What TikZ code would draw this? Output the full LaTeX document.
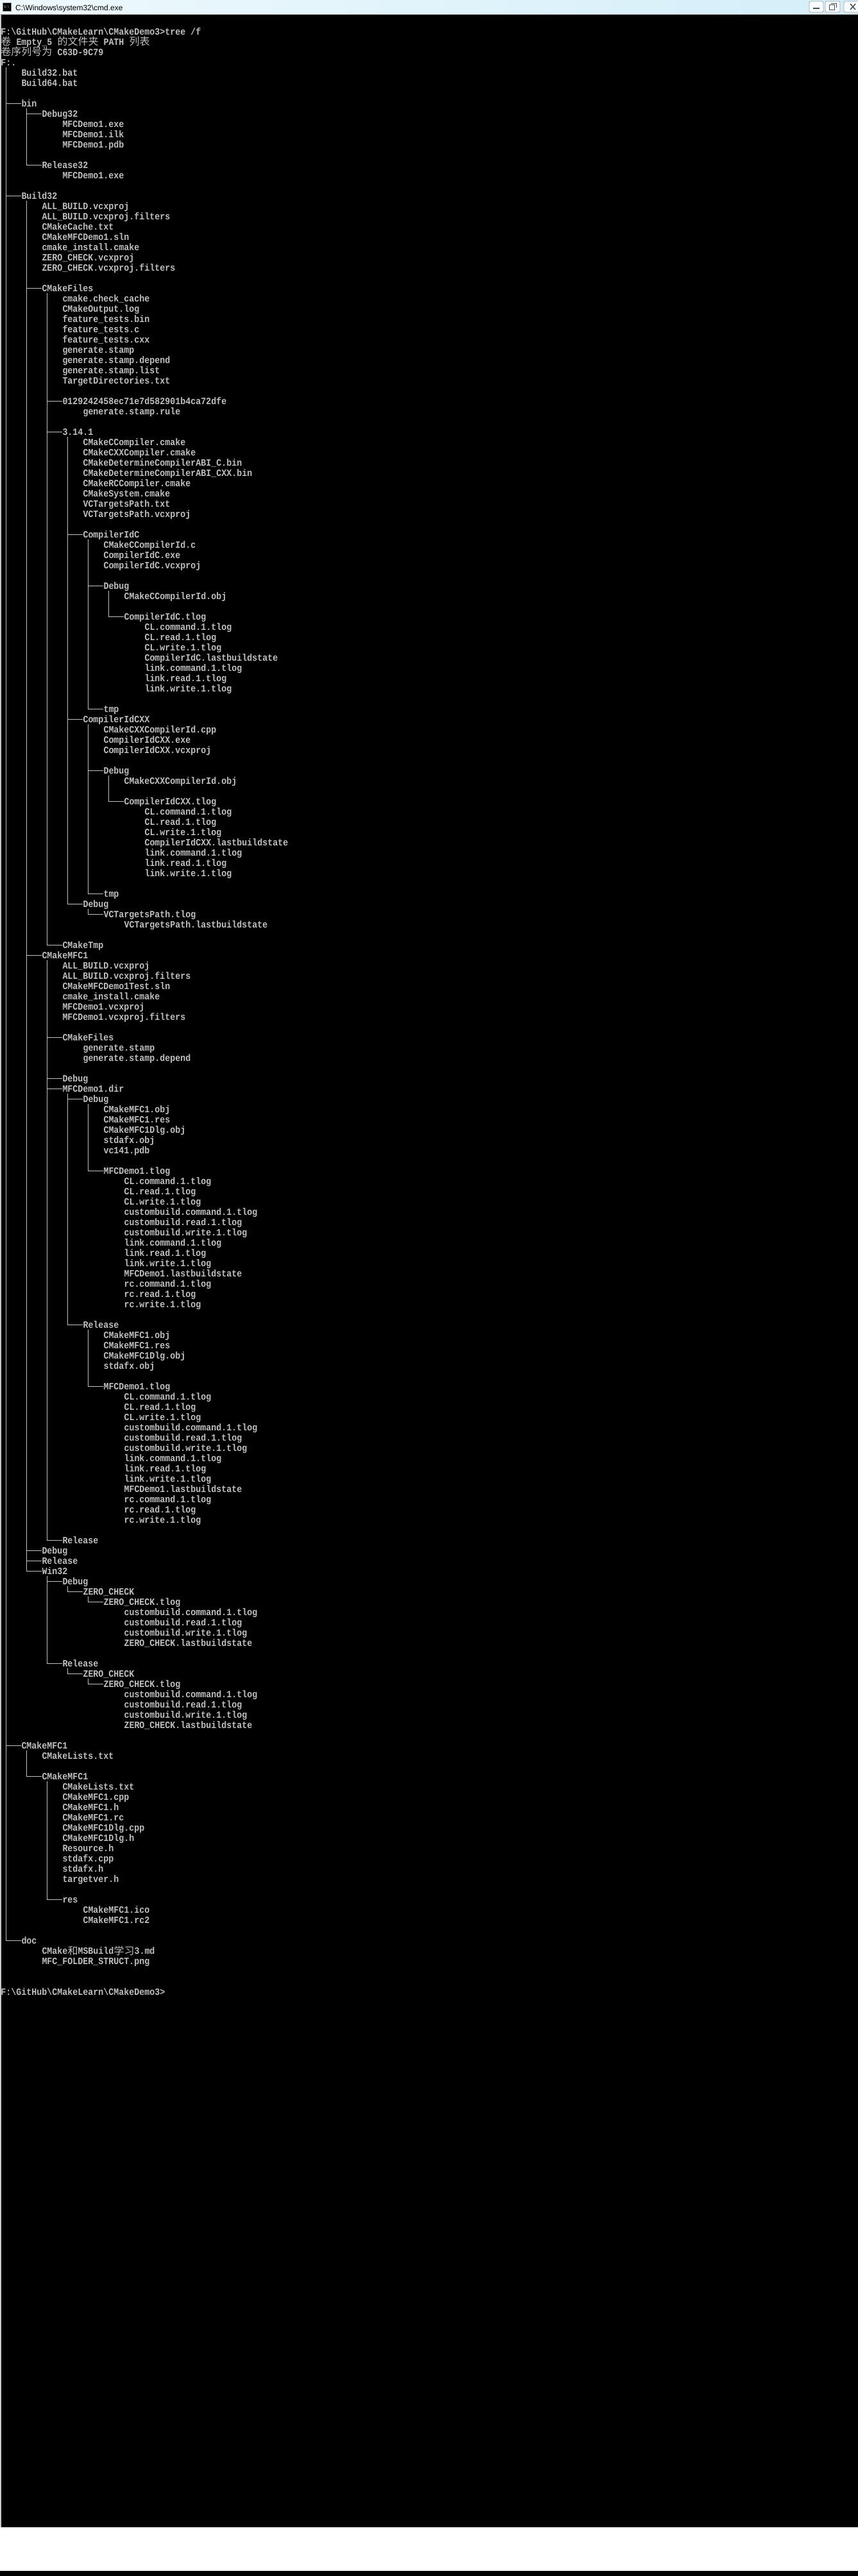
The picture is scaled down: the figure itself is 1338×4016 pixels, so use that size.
\documentclass[tikz,border=0pt]{standalone}
\usepackage{fontspec}
\newfontfamily\tfont{Liberation Mono}[FakeStretch=0.88875]
\newfontfamily\cjkf{Noto Sans CJK SC}
\newfontfamily\uifont{Liberation Sans}
\definecolor{term}{RGB}{192,192,192}
\definecolor{titlebgL}{RGB}{238,249,253}
\definecolor{titlebgR}{RGB}{212,238,249}
\definecolor{winborder}{RGB}{200,200,200}
\newcommand\trow[3]{\node[txt] (r#1) at ({1.5+8*#2},{54+16*#1}) {#3};}
\newcommand\treev[3]{\draw[tree] ({9.5+8*#1},{41+16*#2}) -- ({9.5+8*#1},{49+16*#3}) -- ++(23,0);}
\newcommand\treet[2]{\draw[tree] ({9.5+8*#1},{49+16*#2}) -- ++(23,0);}
\begin{document}
\begin{tikzpicture}[x=1pt,y=-1pt,
  txt/.style={anchor=base west,inner sep=0pt,outer sep=0pt,text=term,font=\tfont\bfseries\fontsize{15}{16}\selectfont},
  cjk/.style={anchor=base west,inner sep=0pt,outer sep=0pt,text=term,font=\cjkf\fontsize{16}{16}\selectfont},
  tree/.style={draw=term,line width=1pt},
  winbtn/.style={draw=gray!70,fill=white!85!cyan!20,rounded corners=2pt,line width=0.8pt}]
\useasboundingbox (0,0) rectangle (1338,4016);
\fill[black] (0,0) rectangle (1338,4016);
% title bar
\shade[left color=titlebgL,right color=titlebgR] (0,0) rectangle (1338,22);
\draw[gray!70,line width=1pt] (0,22.5) -- (1338,22.5);
\node[fill=black,draw=gray,minimum size=13pt,inner sep=0pt,text=white,font=\tfont\fontsize{5}{5}\selectfont] (icon) at (10.5,11) {C:\textbackslash};
\node[anchor=base west,inner sep=0pt,font=\uifont\fontsize{12}{14}\selectfont] (title) at (24,16) {C:\textbackslash Windows\textbackslash system32\textbackslash cmd.exe};
\draw[winbtn] (1262,2) rectangle (1284,19);
\draw[winbtn] (1287,2) rectangle (1310,19);
\draw[winbtn] (1316,2) rectangle (1345,19);
\draw[black!70,line width=1.5pt] (1268,13) -- (1278,13);
\draw[black!70,line width=1pt] (1293,7) rectangle (1301,15);
\draw[black!70,line width=1pt] (1296,5) -- (1304,5) -- (1304,12);
\draw[black!70,line width=1.5pt] (1326,6) -- (1334,15) (1326,15) -- (1334,6);
% window left border
\draw[winborder,line width=1.5pt] (1,23) -- (1,3940);
% text
\trow{0}{0}{F:\textbackslash{}GitHub\textbackslash{}CMakeLearn\textbackslash{}CMakeDemo3>tree /f}
\node[cjk] (r1a) at (1.5,70) {卷};
\node[txt] (r1b) at ({1.5+8*3},70) {Empty\_5};
\node[cjk] (r1c) at ({1.5+8*11},70) {的文件夹};
\node[txt] (r1d) at ({1.5+8*20},70) {PATH};
\node[cjk] (r1e) at ({1.5+8*25},70) {列表};
\node[cjk] (r2a) at (1.5,86) {卷序列号为};
\node[txt] (r2b) at ({1.5+8*11},86) {C63D-9C79};
\trow{3}{0}{F:.}
\trow{4}{4}{Build32.bat}
\trow{5}{4}{Build64.bat}
\trow{7}{4}{bin}
\trow{8}{8}{Debug32}
\trow{9}{12}{MFCDemo1.exe}
\trow{10}{12}{MFCDemo1.ilk}
\trow{11}{12}{MFCDemo1.pdb}
\trow{13}{8}{Release32}
\trow{14}{12}{MFCDemo1.exe}
\trow{16}{4}{Build32}
\trow{17}{8}{ALL\_BUILD.vcxproj}
\trow{18}{8}{ALL\_BUILD.vcxproj.filters}
\trow{19}{8}{CMakeCache.txt}
\trow{20}{8}{CMakeMFCDemo1.sln}
\trow{21}{8}{cmake\_install.cmake}
\trow{22}{8}{ZERO\_CHECK.vcxproj}
\trow{23}{8}{ZERO\_CHECK.vcxproj.filters}
\trow{25}{8}{CMakeFiles}
\trow{26}{12}{cmake.check\_cache}
\trow{27}{12}{CMakeOutput.log}
\trow{28}{12}{feature\_tests.bin}
\trow{29}{12}{feature\_tests.c}
\trow{30}{12}{feature\_tests.cxx}
\trow{31}{12}{generate.stamp}
\trow{32}{12}{generate.stamp.depend}
\trow{33}{12}{generate.stamp.list}
\trow{34}{12}{TargetDirectories.txt}
\trow{36}{12}{0129242458ec71e7d582901b4ca72dfe}
\trow{37}{16}{generate.stamp.rule}
\trow{39}{12}{3.14.1}
\trow{40}{16}{CMakeCCompiler.cmake}
\trow{41}{16}{CMakeCXXCompiler.cmake}
\trow{42}{16}{CMakeDetermineCompilerABI\_C.bin}
\trow{43}{16}{CMakeDetermineCompilerABI\_CXX.bin}
\trow{44}{16}{CMakeRCCompiler.cmake}
\trow{45}{16}{CMakeSystem.cmake}
\trow{46}{16}{VCTargetsPath.txt}
\trow{47}{16}{VCTargetsPath.vcxproj}
\trow{49}{16}{CompilerIdC}
\trow{50}{20}{CMakeCCompilerId.c}
\trow{51}{20}{CompilerIdC.exe}
\trow{52}{20}{CompilerIdC.vcxproj}
\trow{54}{20}{Debug}
\trow{55}{24}{CMakeCCompilerId.obj}
\trow{57}{24}{CompilerIdC.tlog}
\trow{58}{28}{CL.command.1.tlog}
\trow{59}{28}{CL.read.1.tlog}
\trow{60}{28}{CL.write.1.tlog}
\trow{61}{28}{CompilerIdC.lastbuildstate}
\trow{62}{28}{link.command.1.tlog}
\trow{63}{28}{link.read.1.tlog}
\trow{64}{28}{link.write.1.tlog}
\trow{66}{20}{tmp}
\trow{67}{16}{CompilerIdCXX}
\trow{68}{20}{CMakeCXXCompilerId.cpp}
\trow{69}{20}{CompilerIdCXX.exe}
\trow{70}{20}{CompilerIdCXX.vcxproj}
\trow{72}{20}{Debug}
\trow{73}{24}{CMakeCXXCompilerId.obj}
\trow{75}{24}{CompilerIdCXX.tlog}
\trow{76}{28}{CL.command.1.tlog}
\trow{77}{28}{CL.read.1.tlog}
\trow{78}{28}{CL.write.1.tlog}
\trow{79}{28}{CompilerIdCXX.lastbuildstate}
\trow{80}{28}{link.command.1.tlog}
\trow{81}{28}{link.read.1.tlog}
\trow{82}{28}{link.write.1.tlog}
\trow{84}{20}{tmp}
\trow{85}{16}{Debug}
\trow{86}{20}{VCTargetsPath.tlog}
\trow{87}{24}{VCTargetsPath.lastbuildstate}
\trow{89}{12}{CMakeTmp}
\trow{90}{8}{CMakeMFC1}
\trow{91}{12}{ALL\_BUILD.vcxproj}
\trow{92}{12}{ALL\_BUILD.vcxproj.filters}
\trow{93}{12}{CMakeMFCDemo1Test.sln}
\trow{94}{12}{cmake\_install.cmake}
\trow{95}{12}{MFCDemo1.vcxproj}
\trow{96}{12}{MFCDemo1.vcxproj.filters}
\trow{98}{12}{CMakeFiles}
\trow{99}{16}{generate.stamp}
\trow{100}{16}{generate.stamp.depend}
\trow{102}{12}{Debug}
\trow{103}{12}{MFCDemo1.dir}
\trow{104}{16}{Debug}
\trow{105}{20}{CMakeMFC1.obj}
\trow{106}{20}{CMakeMFC1.res}
\trow{107}{20}{CMakeMFC1Dlg.obj}
\trow{108}{20}{stdafx.obj}
\trow{109}{20}{vc141.pdb}
\trow{111}{20}{MFCDemo1.tlog}
\trow{112}{24}{CL.command.1.tlog}
\trow{113}{24}{CL.read.1.tlog}
\trow{114}{24}{CL.write.1.tlog}
\trow{115}{24}{custombuild.command.1.tlog}
\trow{116}{24}{custombuild.read.1.tlog}
\trow{117}{24}{custombuild.write.1.tlog}
\trow{118}{24}{link.command.1.tlog}
\trow{119}{24}{link.read.1.tlog}
\trow{120}{24}{link.write.1.tlog}
\trow{121}{24}{MFCDemo1.lastbuildstate}
\trow{122}{24}{rc.command.1.tlog}
\trow{123}{24}{rc.read.1.tlog}
\trow{124}{24}{rc.write.1.tlog}
\trow{126}{16}{Release}
\trow{127}{20}{CMakeMFC1.obj}
\trow{128}{20}{CMakeMFC1.res}
\trow{129}{20}{CMakeMFC1Dlg.obj}
\trow{130}{20}{stdafx.obj}
\trow{132}{20}{MFCDemo1.tlog}
\trow{133}{24}{CL.command.1.tlog}
\trow{134}{24}{CL.read.1.tlog}
\trow{135}{24}{CL.write.1.tlog}
\trow{136}{24}{custombuild.command.1.tlog}
\trow{137}{24}{custombuild.read.1.tlog}
\trow{138}{24}{custombuild.write.1.tlog}
\trow{139}{24}{link.command.1.tlog}
\trow{140}{24}{link.read.1.tlog}
\trow{141}{24}{link.write.1.tlog}
\trow{142}{24}{MFCDemo1.lastbuildstate}
\trow{143}{24}{rc.command.1.tlog}
\trow{144}{24}{rc.read.1.tlog}
\trow{145}{24}{rc.write.1.tlog}
\trow{147}{12}{Release}
\trow{148}{8}{Debug}
\trow{149}{8}{Release}
\trow{150}{8}{Win32}
\trow{151}{12}{Debug}
\trow{152}{16}{ZERO\_CHECK}
\trow{153}{20}{ZERO\_CHECK.tlog}
\trow{154}{24}{custombuild.command.1.tlog}
\trow{155}{24}{custombuild.read.1.tlog}
\trow{156}{24}{custombuild.write.1.tlog}
\trow{157}{24}{ZERO\_CHECK.lastbuildstate}
\trow{159}{12}{Release}
\trow{160}{16}{ZERO\_CHECK}
\trow{161}{20}{ZERO\_CHECK.tlog}
\trow{162}{24}{custombuild.command.1.tlog}
\trow{163}{24}{custombuild.read.1.tlog}
\trow{164}{24}{custombuild.write.1.tlog}
\trow{165}{24}{ZERO\_CHECK.lastbuildstate}
\trow{167}{4}{CMakeMFC1}
\trow{168}{8}{CMakeLists.txt}
\trow{170}{8}{CMakeMFC1}
\trow{171}{12}{CMakeLists.txt}
\trow{172}{12}{CMakeMFC1.cpp}
\trow{173}{12}{CMakeMFC1.h}
\trow{174}{12}{CMakeMFC1.rc}
\trow{175}{12}{CMakeMFC1Dlg.cpp}
\trow{176}{12}{CMakeMFC1Dlg.h}
\trow{177}{12}{Resource.h}
\trow{178}{12}{stdafx.cpp}
\trow{179}{12}{stdafx.h}
\trow{180}{12}{targetver.h}
\trow{182}{12}{res}
\trow{183}{16}{CMakeMFC1.ico}
\trow{184}{16}{CMakeMFC1.rc2}
\trow{186}{4}{doc}
\node[txt] (r187a) at ({1.5+8*8},{54+16*187}) {CMake};
\node[cjk] (r187b) at ({1.5+8*13},{55+16*187}) {和};
\node[txt] (r187c) at ({1.5+8*15},{54+16*187}) {MSBuild};
\node[cjk] (r187d) at ({1.5+8*22},{55+16*187}) {学习};
\node[txt] (r187e) at ({1.5+8*26},{54+16*187}) {3.md};
\trow{188}{8}{MFC\_FOLDER\_STRUCT.png}
\trow{191}{0}{F:\textbackslash{}GitHub\textbackslash{}CMakeLearn\textbackslash{}CMakeDemo3>}
% tree lines
\treev{0}{4}{186} \treet{0}{7} \treet{0}{16} \treet{0}{167}
\treev{4}{8}{13} \treet{4}{8}
\treev{4}{17}{150} \treet{4}{25} \treet{4}{90} \treet{4}{148} \treet{4}{149}
\treev{8}{26}{89} \treet{8}{36} \treet{8}{39}
\treev{12}{40}{85} \treet{12}{49} \treet{12}{67}
\treev{16}{50}{66} \treet{16}{54}
\treev{20}{55}{57}
\treev{16}{68}{84} \treet{16}{72}
\treev{20}{73}{75}
\treev{16}{86}{86}
\treev{8}{91}{147} \treet{8}{98} \treet{8}{102} \treet{8}{103}
\treev{12}{104}{126} \treet{12}{104}
\treev{16}{105}{111}
\treev{16}{127}{132}
\treev{8}{151}{159} \treet{8}{151}
\treev{12}{152}{152}
\treev{16}{153}{153}
\treev{12}{160}{160}
\treev{16}{161}{161}
\treev{4}{168}{170}
\treev{8}{171}{182}
% bottom
\fill[white] (0,3940) rectangle (1338,4008);
\end{tikzpicture}
\end{document}
